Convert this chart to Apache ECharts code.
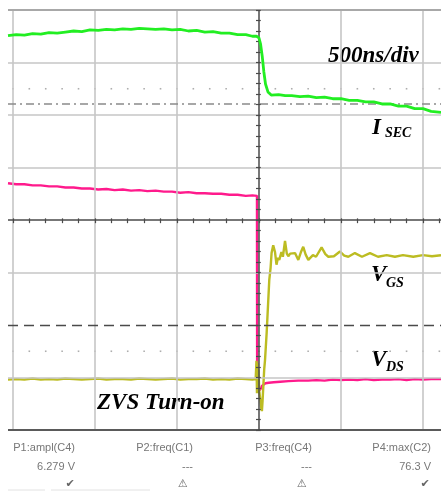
<!DOCTYPE html>
<html>
<head>
<meta charset="utf-8">
<script src="https://cdn.jsdelivr.net/npm/echarts@6/dist/echarts.min.js"></script>
<style>
  html, body { margin: 0; padding: 0; background: #ffffff; }
  #chart { width: 441px; height: 491px; }
</style>
</head>
<body>
<div id="chart"></div>
<script>
// Scope capture: time in ns relative to the trigger, amplitude in screen divisions.

// Secondary current I_SEC (green)
const isecTime = [-1530,-1480,-1430,-1380,-1330,-1280,-1230,-1180,-1130,-1080,-1030,-980,-930,-880,-830,-780,-730,-680,-630,-580,-530,-480,-430,-380,-330,-280,-230,-180,-130,-80,-40,-15,0,10,20,30,40,55,75,120,160,200,250,300,350,400,450,500,550,600,650,700,750,800,850,900,950,1000,1050,1110];
const isecValue = [3.51,3.53,3.52,3.55,3.54,3.57,3.56,3.58,3.60,3.59,3.62,3.61,3.63,3.62,3.64,3.63,3.65,3.64,3.63,3.64,3.62,3.63,3.60,3.61,3.58,3.59,3.56,3.56,3.53,3.53,3.50,3.50,3.47,3.35,3.12,2.82,2.59,2.44,2.38,2.39,2.37,2.37,2.35,2.36,2.33,2.34,2.31,2.31,2.28,2.28,2.25,2.25,2.21,2.21,2.17,2.17,2.12,2.12,2.07,2.05];

// Drain-source voltage V_DS (magenta)
const vdsTime = [-1530,-1480,-1430,-1380,-1330,-1280,-1230,-1180,-1130,-1080,-1030,-980,-930,-880,-830,-780,-730,-680,-630,-580,-530,-480,-430,-380,-330,-280,-230,-180,-130,-80,-40,-12,-11,-6,-2,3,10,18,28,40,60,90,130,180,240,300,350,400,450,500,550,600,650,700,750,800,850,900,950,1000,1050,1110];
const vdsValue = [0.70,0.68,0.68,0.66,0.66,0.64,0.64,0.62,0.62,0.60,0.60,0.58,0.59,0.57,0.58,0.56,0.57,0.55,0.56,0.54,0.54,0.52,0.53,0.51,0.51,0.50,0.50,0.48,0.48,0.46,0.47,0.46,-3.05,-3.16,-3.26,-3.28,-3.22,-3.16,-3.13,-3.11,-3.10,-3.09,-3.08,-3.07,-3.06,-3.06,-3.05,-3.06,-3.04,-3.05,-3.04,-3.05,-3.03,-3.05,-3.04,-3.04,-3.03,-3.05,-3.03,-3.04,-3.03,-3.03];

// Gate-source voltage V_GS (yellow)
const vgsTime = [-1530,-1480,-1430,-1380,-1330,-1280,-1230,-1180,-1130,-1080,-1030,-980,-930,-880,-830,-780,-730,-680,-630,-580,-530,-480,-430,-380,-330,-280,-230,-180,-130,-80,-40,-20,-15,-12,-9,-6,-3,2,8,14,18,22,27,32,37,47,57,63,71,77,87,98,107,116,124,137,146,159,170,179,190,198,220,240,255,270,285,301,329,348,382,405,423,457,494,520,545,585,628,677,726,779,829,878,941,1000,1055,1110];
const vgsValue = [-3.04,-3.03,-3.04,-3.02,-3.04,-3.03,-3.04,-3.02,-3.03,-3.04,-3.03,-3.02,-3.04,-3.03,-3.03,-3.04,-3.02,-3.03,-3.04,-3.03,-3.02,-3.04,-3.03,-3.03,-3.02,-3.04,-3.03,-3.04,-3.02,-3.03,-3.04,-3.03,-2.68,-3.30,-2.72,-3.12,-2.85,-3.26,-3.42,-3.58,-3.64,-3.45,-3.15,-2.85,-2.67,-2.15,-1.52,-1.14,-0.91,-0.63,-0.48,-0.61,-0.85,-0.72,-0.76,-0.61,-0.70,-0.40,-0.64,-0.69,-0.64,-0.65,-0.63,-0.76,-0.62,-0.51,-0.66,-0.76,-0.67,-0.70,-0.52,-0.65,-0.70,-0.69,-0.60,-0.68,-0.70,-0.63,-0.70,-0.63,-0.70,-0.67,-0.70,-0.67,-0.70,-0.67,-0.69,-0.67];

// Graticule: major divisions (500 ns, 1 div), minor marks every 0.2 div
const timeDivLines = [-1500, -1000, -500, 500, 1000];
const levelDivLines = [3, 2, 1, -1, -3];
const cursorLevels = [2.5, -2.5];
const triggerLevel = 2.21;
const measureHeads = ['P1:ampl(C4)', 'P2:freq(C1)', 'P3:freq(C4)', 'P4:max(C2)'];
const measureValues = ['6.279 V', '---', '---', '76.3 V'];
const measureStatus = ['\u2714', '\u26A0', '\u26A0', '\u2714'];

const X_MIN = -1530, X_MAX = 1110;

function zip(t, v) { return t.map((x, i) => [x, v[i]]); }

const gridColor = '#c6c6c6';
const axisColor = '#4a4a4a';

const graticule = [];
timeDivLines.forEach(t => graticule.push({ xAxis: t, lineStyle: { color: gridColor, width: 1.6, type: 'solid' } }));
levelDivLines.forEach(v => graticule.push({ yAxis: v, lineStyle: { color: gridColor, width: 1.6, type: 'solid' } }));
graticule.push({ yAxis: 4, lineStyle: { color: '#a8a8a8', width: 2, type: 'solid' } });
graticule.push({ yAxis: -4, lineStyle: { color: '#5a5a5a', width: 2, type: 'solid' } });
graticule.push({ yAxis: triggerLevel, lineStyle: { color: '#8a8a8a', width: 1.5, type: [8, 4, 2, 4] } });
graticule.push({ yAxis: -2, lineStyle: { color: '#4a4a4a', width: 1.4, type: [10, 6] } });
graticule.push({ yAxis: 0, lineStyle: { color: axisColor, width: 1.5, type: 'solid' } });
graticule.push({ xAxis: 0, lineStyle: { color: axisColor, width: 1.5, type: 'solid' } });

// tick marks along the centre axes
for (let k = -20; k <= 20; k++) {
  const y = k * 0.2;
  graticule.push([{ coord: [-18, y], lineStyle: { color: axisColor, width: 1.2 } }, { coord: [18, y] }]);
}
for (let k = -15; k <= 11; k++) {
  const x = k * 100;
  graticule.push([{ coord: [x, -0.06], lineStyle: { color: axisColor, width: 1.2 } }, { coord: [x, 0.06] }]);
}

// dotted cursor levels
const cursorDots = [];
cursorLevels.forEach(v => {
  for (let k = -15; k <= 11; k++) cursorDots.push([k * 100, v]);
});

const chart = echarts.init(document.getElementById('chart'), null, { renderer: 'canvas' });

const serifBI = 'italic bold 23px "Liberation Serif", "Times New Roman", serif';
const serifSub = 'italic bold 14px "Liberation Serif", "Times New Roman", serif';

const graphics = [
  { type: 'text', x: 328, y: 56, style: { text: '500ns/div', font: serifBI, fill: '#000', align: 'left', verticalAlign: 'middle' } },
  { type: 'text', x: 372, y: 128, style: { text: 'I', font: serifBI, fill: '#000', align: 'left', verticalAlign: 'middle' } },
  { type: 'text', x: 385, y: 133, style: { text: 'SEC', font: serifSub, fill: '#000', align: 'left', verticalAlign: 'middle' } },
  { type: 'text', x: 371, y: 275, style: { text: 'V', font: serifBI, fill: '#000', align: 'left', verticalAlign: 'middle' } },
  { type: 'text', x: 386, y: 283, style: { text: 'GS', font: serifSub, fill: '#000', align: 'left', verticalAlign: 'middle' } },
  { type: 'text', x: 371, y: 360, style: { text: 'V', font: serifBI, fill: '#000', align: 'left', verticalAlign: 'middle' } },
  { type: 'text', x: 386, y: 367, style: { text: 'DS', font: serifSub, fill: '#000', align: 'left', verticalAlign: 'middle' } },
  { type: 'text', x: 97, y: 403, style: { text: 'ZVS Turn-on', font: serifBI, fill: '#000', align: 'left', verticalAlign: 'middle' } },
  { type: 'line', shape: { x1: 8, y1: 490, x2: 45, y2: 490 }, style: { stroke: '#e2e2e2', lineWidth: 1 } },
  { type: 'line', shape: { x1: 51, y1: 490, x2: 150, y2: 490 }, style: { stroke: '#e2e2e2', lineWidth: 1 } }
];

const colRight = [75, 193, 312, 431];
const iconX = [70, 183, 302, 425];
measureHeads.forEach((h, i) => {
  graphics.push({ type: 'text', x: colRight[i], y: 448, style: { text: h, font: '11px "Liberation Sans", Arial, sans-serif', fill: '#777777', align: 'right', verticalAlign: 'middle' } });
  graphics.push({ type: 'text', x: colRight[i], y: 467, style: { text: measureValues[i], font: '11px "Liberation Sans", Arial, sans-serif', fill: '#777777', align: 'right', verticalAlign: 'middle' } });
  graphics.push({ type: 'text', x: iconX[i], y: 484, style: { text: measureStatus[i], font: '11px "DejaVu Sans", sans-serif', fill: '#666666', align: 'center', verticalAlign: 'middle' } });
});

chart.setOption({
  animation: false,
  backgroundColor: '#ffffff',
  grid: { left: 8, top: 10, width: 433, height: 420, containLabel: false },
  xAxis: { type: 'value', min: X_MIN, max: X_MAX, show: false },
  yAxis: { type: 'value', min: -4, max: 4, show: false },
  series: [
    {
      name: 'graticule',
      type: 'scatter',
      data: cursorDots,
      symbol: 'rect',
      symbolSize: 1.6,
      itemStyle: { color: '#9a9a9a' },
      silent: true,
      z: 1,
      markLine: {
        silent: true,
        symbol: ['none', 'none'],
        label: { show: false },
        emphasis: { disabled: true },
        data: graticule
      }
    },
    {
      name: 'V_DS',
      type: 'line',
      data: zip(vdsTime, vdsValue),
      showSymbol: false,
      lineStyle: { color: '#ff1a8c', width: 2.4 },
      itemStyle: { color: '#ff1a8c' },
      z: 3
    },
    {
      name: 'V_GS',
      type: 'line',
      data: zip(vgsTime, vgsValue),
      showSymbol: false,
      lineStyle: { color: '#bcbc22', width: 2.4 },
      itemStyle: { color: '#bcbc22' },
      z: 4
    },
    {
      name: 'I_SEC',
      type: 'line',
      data: zip(isecTime, isecValue),
      showSymbol: false,
      lineStyle: { color: '#22ee22', width: 2.8 },
      itemStyle: { color: '#22ee22' },
      z: 5
    }
  ],
  graphic: graphics
});
</script>
</body>
</html>
